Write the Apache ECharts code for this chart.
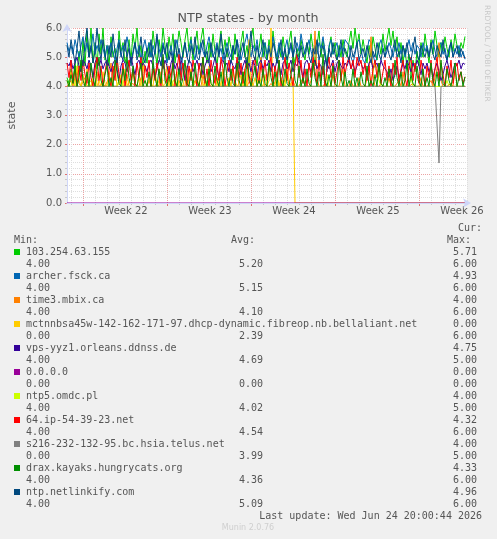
<!DOCTYPE html>
<html><head><meta charset="utf-8">
<script src="https://cdn.jsdelivr.net/npm/echarts@6/dist/echarts.min.js"></script>
<style>html,body{margin:0;padding:0;background:#f0f0f0}#c{width:497px;height:539px}</style>
</head><body><div id="c"></div>
<script>
const weekLabels = ['Week 22','Week 23','Week 24','Week 25','Week 26'];
const seriesNames = ['103.254.63.155','archer.fsck.ca','time3.mbix.ca','mctnnbsa45w-142-162-171-97.dhcp-dynamic.fibreop.nb.bellaliant.net','vps-yyz1.orleans.ddnss.de','0.0.0.0','ntp5.omdc.pl','64.ip-54-39-23.net','s216-232-132-95.bc.hsia.telus.net','drax.kayaks.hungrycats.org','ntp.netlinkify.com'];
const seriesColors = ['#00cc00','#0066b3','#ff8000','#ffcc00','#330099','#990099','#ccff00','#ff0000','#808080','#008f00','#00487d'];
const curVals = ['5.71','4.93','4.00','0.00','4.75','0.00','4.00','4.32','4.00','4.33','4.96'];
const minVals = ['4.00','4.00','4.00','0.00','4.00','0.00','4.00','4.00','0.00','4.00','4.00'];
const avgVals = ['5.20','5.15','4.10','2.39','4.69','0.00','4.02','4.54','3.99','4.36','5.09'];
const maxVals = ['6.00','6.00','6.00','6.00','5.00','0.00','5.00','6.00','5.00','6.00','6.00'];

const s_103 = [
4.3,4.1,4.6,4.2,4.8,4.4,5.2,4.5,5.6,4.7,5.9,5.0,6.0,4.8,5.5,4.6,5.8,5.1,6.0,4.9,
5.4,4.7,5.7,5.0,5.3,4.6,5.9,5.2,5.5,4.8,5.1,5.6,4.9,5.8,5.3,6.0,5.0,5.4,4.6,5.2,
4.8,5.5,5.0,5.9,5.3,4.7,5.6,5.1,6.0,5.4,4.9,5.7,5.2,5.8,4.8,5.3,5.9,5.5,5.0,5.6,
6.0,5.2,5.7,4.9,5.4,5.9,5.1,5.6,6.0,5.3,4.8,5.5,5.0,5.8,5.2,4.7,5.4,5.9,5.1,5.6,
5.0,5.7,5.3,4.9,5.8,5.2,4.6,5.5,5.9,5.0,5.4,4.8,5.6,6.0,5.2,4.7,5.3,5.8,5.0,5.5,
4.9,5.6,5.1,5.9,5.3,4.8,5.4,5.0,5.7,5.2,4.6,5.5,5.9,5.1,4.8,5.3,5.0,5.6,5.2,4.9,
5.5,5.1,5.8,5.3,4.7,5.4,5.9,5.0,5.6,5.2,4.8,5.3,5.7,5.1,5.5,4.9,5.4,5.0,5.6,5.2,
5.0,5.5,5.9,5.3,6.0,5.4,5.8,5.1,5.6,5.2,4.8,5.4,5.0,5.7,5.3,4.9,5.5,5.1,5.8,5.2,
5.6,6.0,5.4,5.9,5.2,5.7,5.0,5.5,4.8,5.3,4.6,5.1,4.4,4.9,4.5,5.2,4.7,5.5,5.0,5.8,
5.3,4.8,5.6,5.1,5.9,5.4,5.0,5.5,5.2,5.7,5.3,5.0,5.6,5.2,5.8,5.4,5.1,5.5,5.3,5.71];
const s_archer = [
5.5,5.2,5.4,5.1,5.6,5.3,5.0,5.4,5.7,5.2,5.5,5.0,5.3,5.8,5.1,5.4,5.2,5.6,5.3,5.0,
5.4,5.1,5.5,5.2,4.9,5.3,5.6,5.0,5.4,5.2,5.7,5.3,4.8,5.2,5.5,5.1,5.4,4.9,5.3,5.6,
5.2,5.5,5.0,5.4,5.1,5.7,5.3,5.0,5.5,5.2,4.8,5.1,5.4,5.0,5.3,5.6,5.1,4.4,5.2,5.5,
5.0,5.3,5.6,5.2,4.9,5.4,5.1,5.5,5.2,5.0,5.4,5.7,5.3,5.0,5.2,5.5,5.1,5.3,4.9,5.2,
5.5,5.2,5.0,5.4,5.1,5.6,5.3,4.9,5.2,5.5,5.8,5.3,5.0,5.4,5.2,5.6,5.1,4.8,5.3,5.5,
5.1,5.4,5.2,5.7,5.3,5.0,5.5,5.2,4.9,5.3,5.6,5.1,5.4,5.0,5.3,5.5,5.2,5.8,5.4,5.1,
5.3,5.6,5.2,5.0,5.4,5.1,5.5,5.3,5.7,5.2,4.5,5.4,5.6,5.1,5.3,5.5,5.0,5.4,5.2,5.6,
5.6,5.4,5.0,4.8,5.1,5.5,5.6,5.3,4.9,4.8,5.2,5.6,5.5,5.1,4.8,5.0,5.4,5.6,5.3,5.0,
5.2,5.5,5.3,5.0,5.4,5.2,5.5,5.1,5.4,5.0,5.3,5.6,5.2,5.5,5.1,5.4,5.3,5.0,5.5,5.2,
5.4,5.1,5.3,5.6,5.2,5.0,5.4,5.5,5.1,5.3,4.9,5.2,5.5,5.0,5.3,5.1,5.4,5.0,5.2,4.93];
const s_time3 = [
4.0,4.0,4.2,4.0,4.0,4.6,4.1,4.0,4.0,4.3,4.0,4.0,4.0,4.2,4.0,4.5,4.0,4.0,4.1,4.0,
4.0,4.3,4.8,4.0,4.0,4.0,4.2,4.0,4.0,4.0,4.4,4.0,4.0,4.1,4.0,4.0,4.0,4.3,4.0,4.0,
4.0,4.2,4.0,4.0,4.0,4.1,4.0,4.5,4.0,4.0,4.0,4.0,4.3,4.0,4.0,4.0,4.2,4.0,4.0,4.0,
4.7,4.0,4.0,4.0,4.2,4.0,4.0,4.0,4.4,4.0,4.0,4.1,4.0,4.0,4.0,4.3,4.0,4.0,4.0,4.0,
4.0,4.2,4.0,4.0,4.0,4.6,4.0,4.0,4.0,4.1,4.0,4.0,4.3,4.0,4.0,4.0,4.0,5.0,4.2,4.0,
4.0,4.0,4.1,4.0,4.0,4.3,4.0,4.0,4.0,4.0,4.5,4.0,4.0,4.2,4.0,4.0,4.0,4.0,4.3,4.0,
4.0,4.0,4.2,4.6,5.9,4.3,4.0,4.0,4.0,4.1,4.0,4.0,4.0,4.4,4.0,4.0,4.0,4.0,4.6,4.0,
4.0,4.0,4.2,4.0,4.0,4.0,4.3,4.0,4.0,4.0,4.0,4.5,5.7,4.4,4.0,4.0,4.0,4.1,4.0,4.0,
4.0,4.3,4.0,4.0,4.0,4.0,4.2,4.0,4.5,4.0,4.0,4.0,4.0,4.1,4.0,4.0,4.0,4.3,4.0,4.0,
4.0,4.0,4.2,4.0,4.0,4.6,5.5,4.2,4.0,4.0,4.0,4.0,4.1,4.0,4.6,4.0,4.0,4.0,4.0,4.0];
const s_mctnnbsa = [
4.2,4.0,4.5,4.1,4.0,4.7,4.2,4.0,4.4,4.0,4.6,4.1,4.0,4.3,4.8,4.0,4.2,4.0,4.5,4.1,
4.0,4.4,4.0,4.2,4.7,4.0,4.1,4.3,4.0,4.6,4.0,4.2,4.0,4.5,4.1,4.0,4.3,4.0,4.8,4.2,
4.0,4.3,4.1,4.0,4.6,4.0,4.2,4.4,4.0,4.1,4.7,4.0,4.3,4.0,4.2,4.5,4.0,4.1,4.0,4.4,
4.0,4.2,4.6,4.0,4.1,4.3,4.0,4.5,4.0,4.2,4.0,4.7,4.1,4.0,4.4,4.0,4.3,4.0,4.6,4.1,
4.0,4.3,4.0,4.5,4.2,4.0,4.1,4.4,4.0,4.6,4.0,5.6,4.2,4.0,4.3,4.0,4.5,4.1,4.0,4.4,
4.0,4.2,6.0,4.1,4.0,4.5,4.0,4.3,4.1,4.0,4.6,4.2,4.0,4.3,0,0,0,0,0,0,
0,0,0,0,0,0,0,0,0,0,0,0,0,0,0,0,0,0,0,0,
0,0,0,0,0,0,0,0,0,0,0,0,0,0,0,0,0,0,0,0,
0,0,0,0,0,0,0,0,0,0,0,0,0,0,0,0,0,0,0,0,
0,0,0,0,0,0,0,0,0,0,0,0,0,0,0,0,0,0,0,0];
const s_vps = [
4.8,4.7,4.9,4.6,4.8,5.0,4.7,4.5,4.9,4.8,4.6,4.9,4.7,4.3,4.8,5.0,4.7,4.9,4.6,4.8,
4.9,4.7,4.5,4.8,4.9,4.6,4.2,4.7,4.9,4.8,4.5,4.8,5.0,4.7,4.4,4.8,4.9,4.6,4.8,4.7,
4.5,4.8,4.9,4.7,4.3,4.6,4.9,4.8,4.6,4.9,4.7,4.4,4.8,5.0,4.6,4.8,4.5,4.9,4.7,4.2,
4.6,4.9,4.8,4.5,4.7,4.9,4.6,4.8,4.4,4.7,4.9,4.8,4.5,4.7,5.0,4.6,4.3,4.8,4.9,4.7,
4.8,4.5,4.9,4.7,4.6,4.9,4.8,4.4,4.7,4.9,4.6,4.8,4.5,4.9,4.7,4.3,4.8,4.9,4.6,4.8,
4.7,4.9,4.5,4.8,4.6,4.9,4.7,4.4,4.8,4.9,4.6,4.7,4.9,4.5,4.8,4.7,4.9,4.6,4.3,4.8,
4.9,4.7,4.5,4.8,4.9,4.6,4.8,4.7,4.4,4.9,4.8,4.6,4.7,4.9,4.5,4.8,4.9,4.7,4.6,4.8,
4.7,4.9,4.6,4.8,4.5,4.7,4.9,4.8,4.6,4.7,4.4,4.8,4.9,4.6,4.7,4.8,4.5,4.9,4.7,4.6,
4.5,4.3,4.6,4.2,4.4,4.7,4.3,4.5,4.8,4.6,4.9,4.7,4.5,4.8,4.6,4.9,4.7,4.4,4.8,4.6,
4.8,4.5,4.7,4.3,4.6,4.8,4.5,4.2,4.4,4.7,4.9,4.6,4.3,4.5,4.8,4.7,4.9,4.6,4.8,4.75];
const s_zero = [
0,0,0,0,0,0,0,0,0,0,0,0,0,0,0,0,0,0,0,0,
0,0,0,0,0,0,0,0,0,0,0,0,0,0,0,0,0,0,0,0,
0,0,0,0,0,0,0,0,0,0,0,0,0,0,0,0,0,0,0,0,
0,0,0,0,0,0,0,0,0,0,0,0,0,0,0,0,0,0,0,0,
0,0,0,0,0,0,0,0,0,0,0,0,0,0,0,0,0,0,0,0,
0,0,0,0,0,0,0,0,0,0,0,0,0,0,0,0,0,0,0,0,
0,0,0,0,0,0,0,0,0,0,0,0,0,0,0,0,0,0,0,0,
0,0,0,0,0,0,0,0,0,0,0,0,0,0,0,0,0,0,0,0,
0,0,0,0,0,0,0,0,0,0,0,0,0,0,0,0,0,0,0,0,
0,0,0,0,0,0,0,0,0,0,0,0,0,0,0,0,0,0,0,0];
const s_ntp5 = [
4,4,4,4.3,4,4,4,4,4,4,4,4,4.2,4,4,4,4,4,4,4,
4,4,4,4,4,4,4,4.4,4,4,4,4,4,4,4,4,4,4,4,4,
4,4,4,4,4,4,4,4,4,4,4,4,4,4,4.3,4,4,4,4,4,
4,4,4,4,4,4,4,4,4,4,4.2,4,4,4,4,4,4,4,4,4,
4,4,4,4,4,4,4,4,4.5,4,4,4,4,4,4,4,4,4,4,4,
4,4,4,4,4,4,4,4,4.2,4,4,4,4,4,4,4,4,4,4,4,
4,4,4,4,4,4,4,4,4,4,4.4,4,4,4,4,4,4,4,4,4,
4,4,4,4,4,4,4,4,4,4,4,4,4,4.5,4.8,4.6,4.2,4,4,4,
4,4,4,4,4,4,4,4,4,4,4,4,4.3,4,4,4,4,4,4,4,
4,4,4,4,4,4,4,4,4,4,4.2,4,4,4,4,4,4,4,4,4];
const s_64ip = [
4.8,4.3,4.9,4.1,4.6,4.0,4.7,4.2,4.9,4.4,4.1,4.8,4.3,4.0,4.6,5.0,4.2,4.7,4.0,4.5,
4.9,4.3,4.0,4.7,4.2,5.0,4.4,4.1,4.8,4.0,4.5,4.9,4.2,4.6,4.0,4.8,4.3,5.0,4.1,4.7,
4.3,4.9,4.0,4.6,4.2,4.8,4.4,4.0,5.0,4.5,4.1,4.7,4.3,4.9,4.0,4.6,5.1,4.2,4.8,4.4,
4.0,4.7,4.2,4.9,4.5,4.0,4.8,4.3,5.0,4.1,4.6,4.0,4.9,4.4,4.1,4.8,4.2,5.0,4.6,4.0,
4.5,4.9,4.2,4.7,4.0,5.0,4.3,4.8,4.1,4.6,4.9,4.2,4.0,4.7,5.0,4.4,4.1,4.8,4.3,4.9,
4.2,4.6,5.0,4.1,4.7,4.3,4.9,4.0,4.5,5.0,4.2,4.8,4.4,4.0,4.7,5.1,4.3,4.9,4.1,4.6,
4.0,4.8,4.3,5.0,4.5,4.1,4.9,4.2,4.7,4.0,4.6,5.0,4.3,4.8,4.1,4.5,4.9,4.2,5.0,4.4,
4.8,5.0,4.6,4.9,4.3,5.0,4.7,4.9,4.4,4.8,4.2,4.7,4.0,4.6,4.9,4.3,4.8,4.1,4.5,4.9,
4.2,4.7,4.0,4.8,4.4,5.0,4.1,4.6,4.9,4.3,4.0,4.7,5.0,4.2,4.8,4.4,4.1,4.9,4.5,4.0,
4.7,4.3,4.9,4.1,4.6,5.0,4.2,4.8,4.4,4.0,4.7,4.3,4.9,4.1,4.6,4.8,4.2,4.5,4.1,4.32];
const s_telus = [
4,4,4,4,4,4,4,4,4,4,4,4,4,4,4,4,4,4,4,4,
4,4,4,4,4,4,4,4,4,4,4,4,4,4,4,4,4,4,4,4,
4,4,4,4,4,4,4,4,4,4,4,4,4,4,4,4,4,4,4,4,
4,4,4,4,4,4,4,4,4,4,4,4,4,4,4,4,4,4,4,4,
4,4,4,4,4,4,4,4,4,4,4,4,4,4,4,4,4,4,4,4,
4,4,4,4,4,4,4,4,4,4,4,4,4,4,4,4,4,4,4,4,
4,4,4,4,4,4,4,4,4,4,4,4,4,4,4,4,4,4,4,4,
4,4,4,4,4,4,4,4,4,4,4,4,4,4,4,4,4,4,4,4,
4,4,4,4,4,4,4,4,4,4,4,4,4,4,4,4,4,4,4,4,
4,4,4,4,4,4,1.37,4,4,4,4,4,4,4,4,4,4,4,4,4];
const s_drax = [
4.2,4.0,4.4,4.1,4.7,4.0,4.3,4.9,4.2,4.0,4.5,4.0,4.8,4.3,4.0,4.6,5.0,4.2,4.0,4.4,
4.7,4.0,4.3,4.0,4.9,4.5,4.1,4.0,4.6,4.2,5.0,4.3,4.0,4.7,4.1,4.0,4.4,4.8,4.0,4.2,
4.0,4.5,4.0,4.9,4.3,4.0,4.6,4.1,5.1,4.2,4.0,4.4,4.0,4.8,4.2,4.0,4.6,4.0,4.3,4.9,
4.1,4.0,4.5,4.0,4.8,4.2,4.0,4.4,5.0,4.3,4.0,4.6,4.1,4.0,4.7,4.2,4.0,4.5,4.0,4.9,
4.3,4.0,4.6,4.1,4.0,4.8,4.2,4.0,4.5,4.0,5.0,4.4,4.0,4.3,4.7,4.0,4.2,4.0,4.6,4.1,
4.0,4.8,4.3,4.0,4.5,4.0,4.9,4.2,4.0,4.6,4.1,4.0,4.4,5.0,4.2,4.0,4.7,4.0,4.3,4.0,
4.6,4.1,4.0,4.8,4.3,4.0,4.5,4.0,5.1,4.2,4.0,4.4,4.0,4.7,4.1,4.0,4.9,4.3,4.0,4.5,
4.0,4.2,4.0,4.6,4.0,4.3,4.0,4.5,4.1,4.0,4.7,4.0,4.2,4.0,4.4,4.0,4.8,4.1,4.0,4.3,
4.0,4.6,4.2,4.0,4.9,4.3,4.0,4.5,4.0,4.2,4.8,4.0,4.4,4.1,4.0,4.7,4.2,4.0,4.6,4.0,
4.3,4.0,4.8,4.2,4.0,4.5,4.0,4.9,4.1,4.0,4.6,4.2,4.0,4.4,4.8,4.0,4.3,4.5,4.0,4.33];
const s_netlinkify = [
5.4,5.0,5.6,5.2,4.8,5.3,5.9,5.1,4.7,5.5,6.0,5.0,5.4,4.8,5.2,6.0,5.3,4.9,5.6,5.1,
4.7,5.4,5.0,5.8,5.2,4.8,5.5,5.1,4.9,5.6,5.0,5.3,4.7,5.1,5.5,4.9,5.2,5.7,5.0,4.8,
5.3,5.0,5.6,4.9,5.2,5.8,5.0,4.7,5.4,5.1,5.5,4.9,5.2,4.8,5.6,5.0,5.3,4.9,5.1,5.5,
5.0,4.8,5.4,5.1,5.7,5.0,4.9,5.3,5.6,5.0,5.2,4.8,5.5,5.1,4.9,5.4,5.0,5.8,5.2,4.9,
5.3,5.0,4.8,5.4,5.1,5.6,4.9,5.2,5.5,5.0,4.8,5.3,5.9,5.1,4.9,5.4,5.0,5.2,5.6,5.0,
4.9,5.3,5.0,5.5,5.2,4.8,5.1,5.6,5.0,5.3,4.9,5.2,5.5,5.0,5.7,5.1,4.9,5.4,5.0,5.2,
5.5,5.0,4.8,5.3,5.1,5.6,4.9,5.2,5.4,5.0,4.7,5.3,5.0,5.5,5.1,4.9,5.2,5.6,5.0,5.3,
5.1,4.9,5.4,5.0,5.2,5.5,4.9,5.1,5.3,5.0,5.4,5.1,4.8,5.2,5.0,5.5,5.1,4.9,5.3,5.0,
5.4,5.1,4.9,5.3,5.6,5.0,5.2,4.8,5.4,5.1,5.5,5.0,4.9,5.3,5.7,5.1,4.9,5.4,5.2,5.0,
5.3,5.0,5.5,5.1,4.9,5.4,5.2,5.0,5.6,5.1,4.9,5.3,5.5,5.0,5.2,5.4,5.0,5.3,5.1,4.96];

const seriesValues = [s_103, s_archer, s_time3, s_mctnnbsa, s_vps, s_zero, s_ntp5, s_64ip, s_telus, s_drax, s_netlinkify];

const FONT = '#555';
const AXIS = '#CFD6F8';
const MAJ = '#eba3a3';
const MIN = '#dedede';

const chart = echarts.init(document.getElementById('c'), null, {renderer: 'canvas'});

const graphic = [];
graphic.push({type:'text', x:248, y:19, style:{text:'NTP states - by month', fill:FONT, font:'12.7px "DejaVu Sans"', textAlign:'center', textVerticalAlign:'middle'}});
graphic.push({type:'text', x:487, y:5, rotation:-Math.PI/2, style:{text:'RRDTOOL / TOBI OETIKER', fill:'#c8c8c8', font:'7.5px "DejaVu Sans"', textAlign:'left', textVerticalAlign:'middle'}});
const mono = '10px "DejaVu Sans Mono"';
graphic.push({type:'text', x:482, y:228, style:{text:'Cur:', fill:FONT, font:mono, textAlign:'right', textVerticalAlign:'middle'}});
graphic.push({type:'text', x:14, y:240, style:{text:'Min:', fill:FONT, font:mono, textAlign:'left', textVerticalAlign:'middle'}});
graphic.push({type:'text', x:231, y:240, style:{text:'Avg:', fill:FONT, font:mono, textAlign:'left', textVerticalAlign:'middle'}});
graphic.push({type:'text', x:471, y:240, style:{text:'Max:', fill:FONT, font:mono, textAlign:'right', textVerticalAlign:'middle'}});
seriesNames.forEach((n, k) => {
  const y1 = 252 + 24 * k, y2 = 264 + 24 * k;
  graphic.push({type:'rect', shape:{x:14, y:y1 - 3, width:6, height:6}, style:{fill:seriesColors[k]}});
  graphic.push({type:'text', x:26, y:y1, style:{text:n, fill:FONT, font:mono, textAlign:'left', textVerticalAlign:'middle'}});
  graphic.push({type:'text', x:477, y:y1, style:{text:curVals[k], fill:FONT, font:mono, textAlign:'right', textVerticalAlign:'middle'}});
  graphic.push({type:'text', x:26, y:y2, style:{text:minVals[k], fill:FONT, font:mono, textAlign:'left', textVerticalAlign:'middle'}});
  graphic.push({type:'text', x:263, y:y2, style:{text:avgVals[k], fill:FONT, font:mono, textAlign:'right', textVerticalAlign:'middle'}});
  graphic.push({type:'text', x:477, y:y2, style:{text:maxVals[k], fill:FONT, font:mono, textAlign:'right', textVerticalAlign:'middle'}});
});
graphic.push({type:'text', x:482, y:516, style:{text:'Last update: Wed Jun 24 20:00:44 2026', fill:FONT, font:mono, textAlign:'right', textVerticalAlign:'middle'}});
graphic.push({type:'text', x:248, y:528, style:{text:'Munin 2.0.76', fill:'#cfcfcf', font:'8px "DejaVu Sans"', textAlign:'center', textVerticalAlign:'middle'}});

const hiddenY = (g) => ({gridIndex:g, type:'value', min:0, max:1, show:false});

chart.setOption({
  backgroundColor:'#f0f0f0',
  animation:false,
  grid:[
    {left:67, top:28, width:400, height:175, show:true, backgroundColor:'#ffffff', borderWidth:0, z:0, containLabel:false, outerBoundsMode:'none'},
    {left:71, top:28, width:396, height:175, show:false, containLabel:false, outerBoundsMode:'none'},
    {left:83, top:28, width:336, height:175, show:false, containLabel:false, outerBoundsMode:'none'},
    {left:126, top:28, width:336, height:175, show:false, containLabel:false, outerBoundsMode:'none'}
  ],
  xAxis:[
    {gridIndex:0, type:'value', min:0, max:200, z:3,
      axisLine:{show:true, lineStyle:{color:AXIS, width:1}, symbol:['none','arrow'], symbolSize:[7,8], symbolOffset:[0,4]},
      axisTick:{show:false}, axisLabel:{show:false}, splitLine:{show:false}},
    {gridIndex:1, type:'value', min:0, max:396, interval:12, z:1,
      axisLine:{show:false}, axisLabel:{show:false},
      axisTick:{show:true, length:2, lineStyle:{color:'#c4c4c4'}},
      splitLine:{show:true, lineStyle:{color:MIN, width:1, type:[1,1]}}},
    {gridIndex:2, type:'value', min:0, max:336, interval:84, z:1.5,
      axisLine:{show:false}, axisLabel:{show:false},
      axisTick:{show:true, length:3, lineStyle:{color:'#e07070'}},
      splitLine:{show:true, lineStyle:{color:MAJ, width:1, type:[1,1]}}},
    {gridIndex:3, type:'value', min:0, max:336, interval:84, z:1,
      axisLine:{show:false}, axisTick:{show:false}, splitLine:{show:false},
      axisLabel:{show:true, margin:3, color:FONT, fontSize:10, fontFamily:'DejaVu Sans',
        formatter:(v) => weekLabels[Math.round(v / 84)]}}
  ],
  yAxis:[
    {gridIndex:0, type:'value', min:0, max:6, interval:1, z:1,
      name:'state', nameLocation:'middle', nameRotate:90, nameGap:49,
      nameTextStyle:{fontSize:11, color:FONT, fontFamily:'DejaVu Sans'},
      axisLine:{show:true, lineStyle:{color:AXIS, width:1}, symbol:['none','arrow'], symbolSize:[7,8], symbolOffset:[0,4]},
      axisTick:{show:true, length:2, lineStyle:{color:'#e07070'}},
      minorTick:{show:true, splitNumber:5, length:2, lineStyle:{color:'#c8c8c8'}},
      axisLabel:{formatter:(v) => v.toFixed(1), fontSize:10, color:FONT, margin:5, fontFamily:'DejaVu Sans'},
      splitLine:{show:true, lineStyle:{color:MAJ, width:1, type:[1,1]}},
      minorSplitLine:{show:true, lineStyle:{color:MIN, width:1, type:[1,1]}}},
    hiddenY(1), hiddenY(2), hiddenY(3)
  ],
  graphic: graphic,
  series: seriesNames.map((n, k) => ({
    name:n, type:'line', xAxisIndex:0, yAxisIndex:0,
    data: seriesValues[k].map((v, i) => [i, v]),
    showSymbol:false, symbol:'none', clip:false, z:2 + k * 0.01,
    lineStyle:{color:seriesColors[k], width:1},
    emphasis:{disabled:true}
  }))
});
</script>
</body></html>
